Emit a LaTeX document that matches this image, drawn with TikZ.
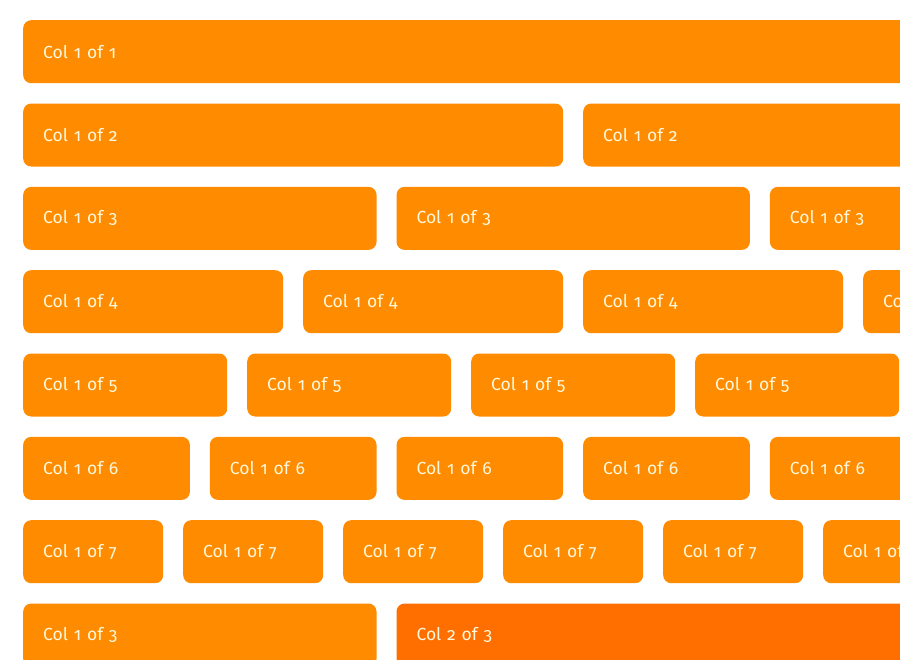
\documentclass[tikz,border=0pt]{standalone}
\usepackage{fontspec}
\setmainfont[Numbers=OldStyle]{Fira Sans}
\definecolor{boxorange}{HTML}{FF8C00}
\definecolor{boxdark}{HTML}{FF6F00}
\definecolor{boxtext}{HTML}{FFF8DC}
\begin{document}
\begin{tikzpicture}[x=1pt,y=-1pt,
  colbox/.style={fill=boxorange, draw=none, rounded corners=8pt, anchor=north west,
    minimum height=63pt, inner xsep=20pt, inner ysep=0pt, align=left,
    text=boxtext, font=\fontsize{17.5}{20}\selectfont},
  darkbox/.style={colbox, fill=boxdark}]
\useasboundingbox (0,0) rectangle (900,660);
\clip (0,0) rectangle (900,660);
\foreach \n in {1,...,7}{
  \pgfmathsetmacro\w{(1100-20*(\n-1))/\n}
  \pgfmathsetmacro\tw{\w-40}
  \pgfmathsetmacro\y{20+(\n-1)*83.333}
  \foreach \i in {1,...,\n}{
    \pgfmathsetmacro\x{23+(\i-1)*(\w+20)}
    \node[colbox, minimum width=\w pt, text width=\tw pt] (r\n-\i) at (\x,\y) {Col 1 of \n};
  }
}
\node[colbox, minimum width=353.33pt, text width=313.33pt] (r8-1) at (23,603.33) {Col 1 of 3};
\node[darkbox, minimum width=726.67pt, text width=686.67pt] (r8-2) at (396.33,603.33) {Col 2 of 3};
\end{tikzpicture}
\end{document}
